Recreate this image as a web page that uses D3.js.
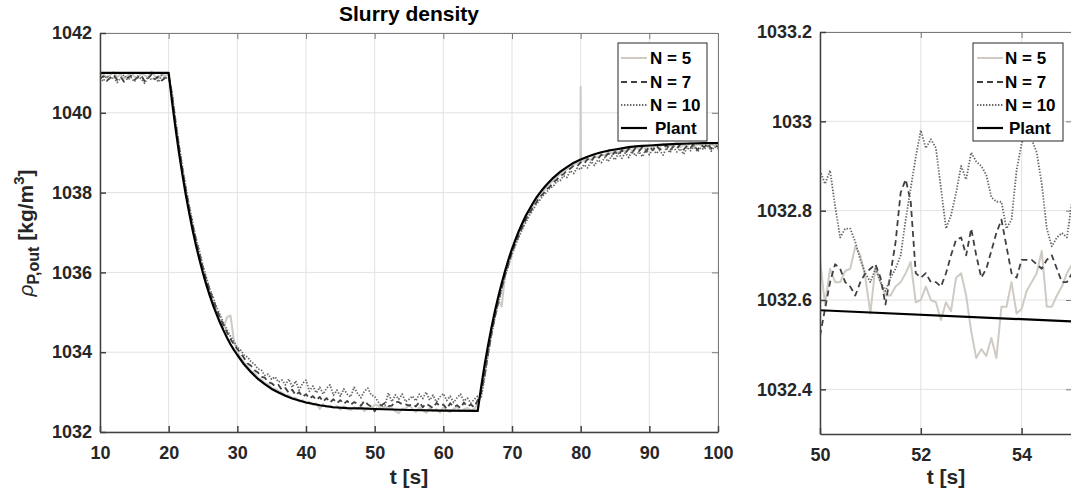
<!DOCTYPE html>
<html><head><meta charset="utf-8">
<script src="https://cdn.jsdelivr.net/npm/d3@7"></script>
<style>
html,body{margin:0;padding:0;background:#fff;}
svg{display:block;font-family:"Liberation Sans",Arial,sans-serif;}
</style></head><body>
<svg id="c" width="1071" height="500"></svg>
<script>
// ---------------- DATA ----------------
const seriesNames = ["N = 5", "N = 7", "N = 10", "Plant"];
const leftXTicks = [10,20,30,40,50,60,70,80,90,100];
const leftYTicks = [1032,1034,1036,1038,1040,1042];
const rightXTicks = [50,52,54];
const rightYTicks = [1032.4,1032.6,1032.8,1033,1033.2];
const rightYTickLabels = ["1032.4","1032.6","1032.8","1033","1033.2"];

// left panel: samples every 0.5 s from 10 s to 100 s (181 values per series)
const leftStart = 10, leftStep = 0.5;
const n5 = [
 1040.92,1040.97,1040.88,1040.95,1041.02,1040.90,1040.96,1040.85,1040.93,1041.00,
 1040.91,1040.87,1040.98,1040.94,1040.89,1041.03,1040.92,1040.86,1040.97,1040.93,
 1040.95,1040.40,1039.70,1039.12,1038.52,1038.03,1037.55,1037.14,1036.72,1036.40,
 1036.03,1035.76,1035.45,1035.24,1034.99,1034.80,1034.60,1034.88,1034.92,1034.30,
 1034.02,1033.86,1033.74,1033.66,1033.52,1033.48,1033.36,1033.32,1033.22,1033.20,
 1033.10,1033.08,1033.02,1032.99,1032.93,1032.92,1032.85,1032.86,1032.76,1032.80,
 1032.72,1032.76,1032.68,1032.72,1032.58,1032.70,1032.62,1032.66,1032.60,1032.65,
 1032.56,1032.64,1032.60,1032.55,1032.62,1032.58,1032.64,1032.52,1032.60,1032.57,
 1032.69,1032.665,1032.57,1032.63,1032.60,1032.595,1032.53,1032.47,1032.58,1032.585,
 1032.68,1032.58,1032.50,1032.62,1032.55,1032.48,1032.60,1032.53,1032.57,1032.49,
 1032.62,1032.55,1032.50,1032.58,1032.63,1032.52,1032.57,1032.60,1032.54,1032.58,
 1032.70,1032.95,1033.45,1034.00,1034.50,1034.92,1035.30,1035.15,1035.95,1036.25,
 1036.52,1036.75,1036.98,1037.15,1037.36,1037.50,1037.66,1037.80,1037.92,1038.02,
 1038.12,1038.22,1038.30,1038.40,1038.45,1038.55,1038.58,1038.66,1038.70,1038.74,
 1038.78,1038.80,1038.86,1038.82,1038.92,1038.88,1038.97,1038.93,1039.02,1038.98,
 1039.05,1039.00,1039.10,1039.04,1039.12,1039.06,1039.15,1039.08,1039.16,1039.10,
 1039.18,1039.12,1039.20,1039.14,1039.22,1039.10,1039.19,1039.15,1039.24,1039.13,
 1039.20,1039.16,1039.26,1039.12,1039.22,1039.18,1039.25,1039.14,1039.21,1039.17,
 1039.20];
const n5SpikeT = [79.95, 80.0, 80.05];
const n5SpikeV = [1038.76, 1040.65, 1038.80];
const n7 = [
 1040.85,1040.92,1040.80,1040.88,1040.95,1040.83,1040.90,1040.78,1040.87,1040.93,
 1040.82,1040.89,1040.94,1040.79,1040.86,1040.96,1040.84,1040.91,1040.81,1040.88,
 1040.92,1040.45,1039.78,1039.15,1038.60,1038.08,1037.62,1037.18,1036.80,1036.45,
 1036.12,1035.80,1035.55,1035.30,1035.08,1034.86,1034.68,1034.50,1034.33,1034.20,
 1034.08,1033.98,1033.85,1033.72,1033.66,1033.55,1033.49,1033.38,1033.36,1033.25,
 1033.22,1033.15,1033.18,1033.05,1033.10,1032.98,1033.06,1032.92,1033.00,1032.88,
 1032.95,1032.84,1032.90,1032.80,1032.88,1032.76,1032.85,1032.74,1032.82,1032.72,
 1032.80,1032.70,1032.78,1032.68,1032.75,1032.71,1032.66,1032.78,1032.69,1032.64,
 1032.52,1032.64,1032.67,1032.73,1032.65,1032.66,1032.76,1032.75,1032.69,1032.69,
 1032.66,1032.70,1032.64,1032.75,1032.62,1032.71,1032.66,1032.60,1032.73,1032.65,
 1032.69,1032.58,1032.72,1032.63,1032.67,1032.60,1032.74,1032.64,1032.69,1032.62,
 1032.80,1032.98,1033.40,1033.95,1034.45,1034.88,1035.26,1035.62,1035.94,1036.22,
 1036.50,1036.72,1036.94,1037.12,1037.32,1037.46,1037.62,1037.74,1037.88,1037.96,
 1038.08,1038.14,1038.26,1038.32,1038.42,1038.46,1038.56,1038.60,1038.68,1038.66,
 1038.76,1038.72,1038.84,1038.78,1038.90,1038.84,1038.95,1038.88,1038.98,1038.92,
 1039.02,1038.94,1039.06,1038.98,1039.10,1039.00,1039.12,1039.04,1039.14,1039.02,
 1039.15,1039.06,1039.18,1039.08,1039.12,1039.20,1039.05,1039.16,1039.10,1039.21,
 1039.08,1039.18,1039.12,1039.22,1039.06,1039.19,1039.14,1039.23,1039.10,1039.17,
 1039.15];
const n10 = [
 1040.88,1040.79,1040.93,1040.84,1040.90,1040.76,1040.87,1040.95,1040.82,1040.89,
 1040.78,1040.92,1040.85,1040.74,1040.91,1040.83,1040.88,1040.77,1040.94,1040.86,
 1040.90,1040.50,1039.82,1039.22,1038.64,1038.15,1037.66,1037.25,1036.84,1036.52,
 1036.16,1035.87,1035.58,1035.36,1035.12,1034.93,1034.72,1034.56,1034.40,1034.26,
 1034.12,1034.05,1033.92,1033.88,1033.76,1033.70,1033.58,1033.55,1033.42,1033.45,
 1033.32,1033.38,1033.25,1033.30,1033.18,1033.33,1033.12,1033.28,1033.05,1033.22,
 1033.30,1033.02,1033.15,1032.98,1033.12,1032.95,1033.10,1033.18,1032.92,1033.05,
 1032.90,1033.08,1032.95,1032.88,1033.12,1032.97,1032.86,1033.02,1033.10,1032.93,
 1032.89,1032.76,1032.64,1032.67,1032.98,1032.76,1032.93,1032.82,1032.95,1032.76,
 1032.82,1032.90,1032.78,1032.95,1032.84,1033.00,1032.80,1032.92,1032.75,1032.88,
 1032.96,1032.79,1032.90,1032.74,1032.86,1032.95,1032.78,1032.85,1032.72,1032.82,
 1032.90,1032.85,1033.35,1033.92,1034.42,1034.85,1035.22,1035.58,1035.90,1036.18,
 1036.45,1036.68,1036.88,1037.08,1037.25,1037.42,1037.55,1037.70,1037.80,1037.92,
 1038.00,1038.12,1038.15,1038.28,1038.30,1038.42,1038.38,1038.55,1038.48,1038.62,
 1038.58,1038.70,1038.62,1038.78,1038.68,1038.82,1038.75,1038.88,1038.78,1038.92,
 1038.82,1038.98,1038.86,1039.00,1038.88,1039.05,1038.92,1039.02,1038.90,1039.08,
 1038.95,1039.10,1038.98,1039.06,1038.94,1039.12,1039.00,1039.15,1039.02,1039.10,
 1038.96,1039.14,1039.05,1039.18,1039.02,1039.12,1039.08,1039.20,1039.04,1039.15,
 1039.10];
const plantT = [10,20,20.5,21,21.5,22,22.5,23,23.5,24,24.5,25,25.5,26,26.5,27,27.5,28,28.5,29,29.5,30,
 31,32,33,34,35,36,37,38,39,40,42,44,46,48,50,55,60,65,
 65.5,66,66.5,67,67.5,68,68.5,69,69.5,70,70.5,71,71.5,72,72.5,73,73.5,74,74.5,75,
 76,77,78,79,80,81,82,83,84,85,86,87,88,89,90,92,94,96,98,100];
const plantV = [1041.00,1041.00,1040.27,1039.61,1039.00,1038.45,1037.94,1037.48,1037.05,1036.66,1036.31,1035.98,1035.68,1035.41,1035.16,1034.94,1034.73,1034.54,1034.36,1034.20,1034.06,1033.93,
 1033.69,1033.50,1033.33,1033.20,1033.08,1032.99,1032.91,1032.84,1032.79,1032.74,1032.67,1032.62,1032.60,1032.59,1032.577,1032.552,1032.537,1032.527,
 1033.12,1033.67,1034.16,1034.61,1035.02,1035.39,1035.73,1036.04,1036.33,1036.59,1036.82,1037.04,1037.23,1037.42,1037.57,1037.72,1037.86,1037.98,1038.09,1038.19,
 1038.37,1038.52,1038.64,1038.75,1038.83,1038.90,1038.96,1039.01,1039.05,1039.08,1039.11,1039.14,1039.16,1039.17,1039.18,1039.20,1039.22,1039.23,1039.24,1039.24];

// right panel (zoom): samples every 0.1 s from 50 s to 55 s (51 values per series)
const zoomStart = 50, zoomStep = 0.1;
const z5 = [
 1032.69,1032.59,1032.67,1032.64,1032.64,1032.665,1032.67,1032.72,1032.70,1032.65,
 1032.57,1032.675,1032.64,1032.61,1032.61,1032.63,1032.64,1032.66,1032.685,1032.595,
 1032.60,1032.63,1032.60,1032.595,1032.555,1032.595,1032.575,1032.65,1032.66,1032.61,
 1032.53,1032.47,1032.49,1032.475,1032.515,1032.47,1032.585,1032.585,1032.64,1032.57,
 1032.58,1032.62,1032.64,1032.66,1032.71,1032.585,1032.585,1032.61,1032.63,1032.66,
 1032.68];
const z7 = [
 1032.52,1032.58,1032.64,1032.68,1032.67,1032.64,1032.63,1032.61,1032.64,1032.66,
 1032.67,1032.68,1032.65,1032.59,1032.66,1032.73,1032.84,1032.87,1032.82,1032.66,
 1032.65,1032.66,1032.64,1032.64,1032.63,1032.66,1032.70,1032.735,1032.74,1032.70,
 1032.76,1032.70,1032.65,1032.67,1032.71,1032.75,1032.78,1032.72,1032.66,1032.65,
 1032.69,1032.69,1032.69,1032.68,1032.67,1032.69,1032.70,1032.67,1032.64,1032.64,
 1032.66];
const z10 = [
 1032.89,1032.86,1032.89,1032.81,1032.74,1032.76,1032.76,1032.73,1032.69,1032.66,
 1032.64,1032.67,1032.64,1032.62,1032.65,1032.67,1032.70,1032.78,1032.85,1032.92,
 1032.98,1032.94,1032.96,1032.94,1032.85,1032.76,1032.79,1032.84,1032.90,1032.87,
 1032.93,1032.91,1032.90,1032.88,1032.83,1032.82,1032.82,1032.76,1032.78,1032.89,
 1032.95,1032.98,1032.96,1032.93,1032.86,1032.76,1032.72,1032.74,1032.75,1032.74,
 1032.82];
const zPlantT = [50, 55];
const zPlantV = [1032.577, 1032.552];

// ---------------- STYLE ----------------
const styles = [
  {color:"#cfcbc4", width:2, dash:null},
  {color:"#404040", width:1.8, dash:"6,4"},
  {color:"#666666", width:1.8, dash:"1.4,1.6"},
  {color:"#000000", width:2.2, dash:null}
];

const svg = d3.select("#c");
const TXT = "#262626";

function toPts(start, step, vals){ return vals.map((v,i)=>({t:+(start+i*step).toFixed(3), v})); }

function panel(opts){
  const {x, y, xticks, yticks, yfmt, id} = opts;
  const g = svg.append("g");
  const [x0,x1] = x.range(), [y0,y1] = y.range();
  g.append("clipPath").attr("id", id).append("rect")
    .attr("x", x0).attr("y", y1).attr("width", x1-x0).attr("height", y0-y1);
  // grid
  g.append("g").selectAll("line").data(xticks).join("line")
    .attr("x1", d=>x(d)).attr("x2", d=>x(d)).attr("y1", y0).attr("y2", y1)
    .attr("stroke", "#e2e2e2").attr("stroke-width", 1);
  g.append("g").selectAll("line").data(yticks).join("line")
    .attr("x1", x0).attr("x2", x1).attr("y1", d=>y(d)).attr("y2", d=>y(d))
    .attr("stroke", "#e2e2e2").attr("stroke-width", 1);
  // top/right box axes
  const top = g.append("g").attr("transform", `translate(0,${y1})`)
    .call(d3.axisTop(x).tickValues(xticks).tickSizeInner(-6).tickSizeOuter(0).tickFormat(""));
  const right = g.append("g").attr("transform", `translate(${x1},0)`)
    .call(d3.axisRight(y).tickValues(yticks).tickSizeInner(-6).tickSizeOuter(0).tickFormat(""));
  [top,right].forEach(a=>{ a.selectAll("path,line").attr("stroke","#7a7a7a").attr("stroke-width",1); });
  // data layer
  const data = g.append("g").attr("clip-path", `url(#${id})`);
  // bottom/left axes
  const bottom = g.append("g").attr("transform", `translate(0,${y0})`)
    .call(d3.axisBottom(x).tickValues(xticks).tickSizeInner(-6).tickSizeOuter(0).tickPadding(14).tickFormat(d3.format("d")));
  const left = g.append("g").attr("transform", `translate(${x0},0)`)
    .call(d3.axisLeft(y).tickValues(yticks).tickSizeInner(-6).tickSizeOuter(0).tickPadding(8).tickFormat(yfmt));
  [bottom,left].forEach(a=>{
    a.selectAll("path,line").attr("stroke","#404040").attr("stroke-width",1.5);
    a.selectAll("text").attr("fill",TXT).attr("font-size",18).attr("font-weight","bold")
      .attr("font-family","'Liberation Sans',Arial,sans-serif");
  });
  return data;
}

function drawLines(layer, x, y, series){
  const line = d3.line().x(d=>x(d.t)).y(d=>y(d.v));
  series.forEach((pts,i)=>{
    const s = styles[i];
    layer.append("path").datum(pts).attr("d", line)
      .attr("fill","none").attr("stroke", s.color).attr("stroke-width", s.width)
      .attr("stroke-linejoin","round")
      .attr("stroke-dasharray", s.dash);
  });
}

function legend(x0, y0, w, h, lineX0, lineX1, textX, plantX){
  const g = svg.append("g");
  g.append("rect").attr("x",x0).attr("y",y0).attr("width",w).attr("height",h)
    .attr("fill","#fff").attr("stroke","#262626").attr("stroke-width",1);
  const rows = [58, 82, 105, 128];
  seriesNames.forEach((name,i)=>{
    const s = styles[i];
    g.append("line").attr("x1",lineX0).attr("x2",lineX1).attr("y1",rows[i]).attr("y2",rows[i])
      .attr("stroke",s.color).attr("stroke-width",s.width).attr("stroke-dasharray",s.dash);
    g.append("text").attr("x", i===3 ? plantX : textX).attr("y", rows[i]).attr("dy","0.36em")
      .attr("font-size",17).attr("font-weight","bold").attr("fill","#000").text(name);
  });
}

// ---------------- LEFT PANEL ----------------
const xL = d3.scaleLinear().domain([10,100]).range([100,718]);
const yL = d3.scaleLinear().domain([1032,1042]).range([432,33]);
const layerL = panel({x:xL, y:yL, xticks:leftXTicks, yticks:leftYTicks, yfmt:d3.format("d"), id:"clipL"});

let p5 = toPts(leftStart, leftStep, n5).filter(d=>d.t!==80);
p5 = p5.concat(n5SpikeT.map((t,i)=>({t, v:n5SpikeV[i]}))).sort((a,b)=>a.t-b.t);
const p7 = toPts(leftStart, leftStep, n7);
const p10 = toPts(leftStart, leftStep, n10);
const pPlant = plantT.map((t,i)=>({t, v:plantV[i]}));
drawLines(layerL, xL, yL, [p5, p7, p10, pPlant]);

// ---------------- RIGHT PANEL ----------------
const xR = d3.scaleLinear().domain([50,55]).range([820,1072]);
const yR = d3.scaleLinear().domain([1032.3,1033.2]).range([434,32]);
const layerR = panel({x:xR, y:yR, xticks:rightXTicks, yticks:rightYTicks,
  yfmt:(d,i)=>rightYTickLabels[rightYTicks.indexOf(d)], id:"clipR"});
drawLines(layerR, xR, yR, [toPts(zoomStart,zoomStep,z5), toPts(zoomStart,zoomStep,z7),
  toPts(zoomStart,zoomStep,z10), zPlantT.map((t,i)=>({t, v:zPlantV[i]}))]);

// ---------------- LEGENDS ----------------
legend(618, 43, 89, 98, 621, 647, 650, 655);
legend(973, 43, 90, 98, 977, 1003, 1005, 1009);

// ---------------- TEXTS ----------------
svg.append("text").attr("x", 409).attr("y", 21).attr("text-anchor","middle")
  .attr("font-size",21).attr("font-weight","bold").attr("fill","#000").text("Slurry density");
svg.append("text").attr("x", 409).attr("y", 484).attr("text-anchor","middle")
  .attr("font-size",21).attr("font-weight","bold").attr("fill",TXT).text("t [s]");
svg.append("text").attr("x", 946).attr("y", 484).attr("text-anchor","middle")
  .attr("font-size",21).attr("font-weight","bold").attr("fill",TXT).text("t [s]");
const yl = svg.append("text").attr("transform","translate(33,233) rotate(-90)")
  .attr("text-anchor","middle").attr("font-size",21).attr("font-weight","bold").attr("fill",TXT);
yl.append("tspan").attr("font-style","italic").attr("font-weight","normal").text("ρ");
yl.append("tspan").attr("font-size",16).attr("dy",6).text("P,out");
yl.append("tspan").attr("dy",-6).text(" [kg/m");
yl.append("tspan").attr("font-size",15).attr("dy",-9).text("3");
yl.append("tspan").attr("dy",9).text("]");
</script>
</body></html>
